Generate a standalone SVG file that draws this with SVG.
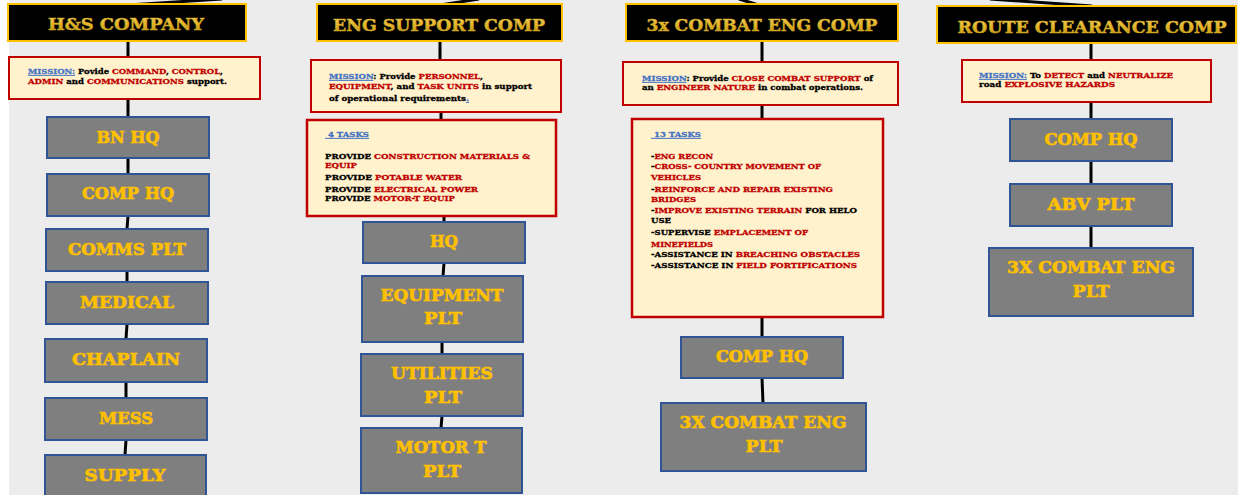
<svg xmlns="http://www.w3.org/2000/svg" width="1238" height="495" viewBox="0 0 1238 495">
<defs>
<linearGradient id="gold" x1="0" y1="0" x2="0" y2="1">
<stop offset="0" stop-color="#f2d36b"/>
<stop offset="0.5" stop-color="#e3b52a"/>
<stop offset="1" stop-color="#b8900f"/>
</linearGradient>
<style>
.hdr rect{fill:#000;stroke:#ffc000;stroke-width:2}
.hdr text{fill:url(#gold);stroke:#d9ad26;stroke-width:0.5;font-family:"DejaVu Serif",serif;font-weight:bold;font-size:17px;text-anchor:middle}
.node rect{fill:#7f7f7f;stroke:#2f5597;stroke-width:2}
.node text{fill:#ffc000;stroke:#ffc000;stroke-width:0.7;font-family:"DejaVu Serif",serif;font-weight:bold;font-size:17px;text-anchor:middle}
.mis rect{fill:#fff2cc;stroke:#c00000;stroke-width:2}
.task rect{fill:#fff2cc;stroke:#c00000;stroke-width:2.5}
.sm{font-family:"DejaVu Serif",serif;font-weight:bold;font-size:8px;fill:#000;stroke:#000;stroke-width:0.3}
.r{fill:#c00000;stroke:#c00000}
.b{fill:#4472c4;stroke:#4472c4;text-decoration:underline}
.con line{stroke:#000;stroke-width:3}
</style>
</defs>
<rect x="0" y="0" width="1238" height="495" fill="#ffffff"/>
<rect x="9" y="0" width="1229" height="495" fill="#ececec"/>

<g id="connectors" class="con">
<line x1="128" y1="5" x2="222" y2="-1"/>
<line x1="440" y1="5" x2="479" y2="-1"/>
<line x1="762" y1="6" x2="739" y2="-1"/>
<line x1="1092" y1="6" x2="990" y2="-1"/>
<line x1="128" y1="41" x2="128" y2="57"/>
<line x1="128" y1="99" x2="128" y2="117"/>
<line x1="128" y1="158" x2="128" y2="174"/>
<line x1="128" y1="216" x2="127" y2="229"/>
<line x1="127" y1="271" x2="127" y2="282"/>
<line x1="127" y1="324" x2="126" y2="339"/>
<line x1="126" y1="382" x2="126" y2="398"/>
<line x1="126" y1="440" x2="125" y2="455"/>
<line x1="440" y1="41" x2="440" y2="60"/>
<line x1="441" y1="112" x2="441" y2="120"/>
<line x1="444" y1="216" x2="444" y2="222"/>
<line x1="444" y1="263" x2="443" y2="276"/>
<line x1="442" y1="342" x2="442" y2="354"/>
<line x1="442" y1="416" x2="441" y2="428"/>
<line x1="762" y1="41" x2="762" y2="62"/>
<line x1="762" y1="105" x2="762" y2="119"/>
<line x1="762" y1="317" x2="762" y2="337"/>
<line x1="762" y1="378" x2="763" y2="403"/>
<line x1="1091" y1="43" x2="1091" y2="60"/>
<line x1="1091" y1="102" x2="1091" y2="119"/>
<line x1="1091" y1="161" x2="1091" y2="184"/>
<line x1="1091" y1="226" x2="1091" y2="248"/>
</g>

<g id="hdr-hs" class="hdr"><rect x="8" y="4" width="238" height="37"/><text x="126" y="30" textLength="156" lengthAdjust="spacingAndGlyphs">H&amp;S COMPANY</text></g>
<g id="hdr-eng" class="hdr"><rect x="317" y="4" width="245" height="37"/><text x="439" y="31" textLength="212" lengthAdjust="spacingAndGlyphs">ENG SUPPORT COMP</text></g>
<g id="hdr-cbt" class="hdr"><rect x="626" y="4" width="272" height="37"/><text x="762" y="31" textLength="231" lengthAdjust="spacingAndGlyphs">3x COMBAT ENG COMP</text></g>
<g id="hdr-rc" class="hdr"><rect x="937" y="6" width="299" height="37"/><text x="1092" y="33" textLength="269" lengthAdjust="spacingAndGlyphs">ROUTE CLEARANCE COMP</text></g>

<g id="mis-hs" class="mis"><rect x="9" y="57" width="251" height="42"/>
<text class="sm" x="28" y="74" textLength="195" lengthAdjust="spacingAndGlyphs"><tspan class="b">MISSION:</tspan> Povide <tspan class="r">COMMAND</tspan>, <tspan class="r">CONTROL</tspan>,</text>
<text class="sm" x="28" y="84" textLength="199" lengthAdjust="spacingAndGlyphs"><tspan class="r">ADMIN</tspan> and <tspan class="r">COMMUNICATIONS</tspan> support.</text>
</g>
<g id="mis-eng" class="mis"><rect x="311" y="60" width="250" height="52"/>
<text class="sm" x="329" y="79" textLength="154" lengthAdjust="spacingAndGlyphs"><tspan class="b">MISSION</tspan>: Provide <tspan class="r">PERSONNEL</tspan>,</text>
<text class="sm" x="329" y="89" textLength="203" lengthAdjust="spacingAndGlyphs"><tspan class="r">EQUIPMENT</tspan>, and <tspan class="r">TASK UNITS</tspan> in support</text>
<text class="sm" x="329" y="101" textLength="140" lengthAdjust="spacingAndGlyphs">of operational requirements<tspan class="b">.</tspan></text>
</g>
<g id="tasks-eng" class="task"><rect x="307" y="120" width="249" height="96"/>
<text class="sm" x="325" y="137" xml:space="preserve" textLength="44" lengthAdjust="spacingAndGlyphs"><tspan class="b"> 4 TASKS</tspan></text>
<text class="sm" x="325" y="159" textLength="205" lengthAdjust="spacingAndGlyphs">PROVIDE <tspan class="r">CONSTRUCTION MATERIALS &amp;</tspan></text>
<text class="sm r" x="325" y="168" textLength="32" lengthAdjust="spacingAndGlyphs">EQUIP</text>
<text class="sm" x="325" y="180" textLength="137" lengthAdjust="spacingAndGlyphs">PROVIDE <tspan class="r">POTABLE WATER</tspan></text>
<text class="sm" x="325" y="192" textLength="153" lengthAdjust="spacingAndGlyphs">PROVIDE <tspan class="r">ELECTRICAL POWER</tspan></text>
<text class="sm" x="325" y="201" textLength="130" lengthAdjust="spacingAndGlyphs">PROVIDE <tspan class="r">MOTOR-T EQUIP</tspan></text>
</g>
<g id="mis-cbt" class="mis"><rect x="623" y="62" width="275" height="43"/>
<text class="sm" x="642" y="81" textLength="231" lengthAdjust="spacingAndGlyphs"><tspan class="b">MISSION</tspan>: Provide <tspan class="r">CLOSE COMBAT SUPPORT</tspan> of</text>
<text class="sm" x="642" y="90" textLength="221" lengthAdjust="spacingAndGlyphs">an <tspan class="r">ENGINEER NATURE</tspan> in combat operations.</text>
</g>
<g id="tasks-cbt" class="task"><rect x="632" y="119" width="251" height="198"/>
<text class="sm" x="651" y="137" xml:space="preserve" textLength="50" lengthAdjust="spacingAndGlyphs"><tspan class="b"> 13 TASKS</tspan></text>
<text class="sm" x="651" y="159" textLength="62" lengthAdjust="spacingAndGlyphs">-<tspan class="r">ENG RECON</tspan></text>
<text class="sm" x="651" y="169" textLength="170" lengthAdjust="spacingAndGlyphs">-<tspan class="r">CROSS- COUNTRY MOVEMENT OF</tspan></text>
<text class="sm r" x="651" y="180" textLength="50" lengthAdjust="spacingAndGlyphs">VEHICLES</text>
<text class="sm" x="651" y="192" textLength="182" lengthAdjust="spacingAndGlyphs">-<tspan class="r">REINFORCE AND REPAIR EXISTING</tspan></text>
<text class="sm r" x="651" y="202" textLength="45" lengthAdjust="spacingAndGlyphs">BRIDGES</text>
<text class="sm" x="651" y="213" textLength="206" lengthAdjust="spacingAndGlyphs">-<tspan class="r">IMPROVE EXISTING TERRAIN</tspan> FOR HELO</text>
<text class="sm" x="651" y="223" textLength="20" lengthAdjust="spacingAndGlyphs">USE</text>
<text class="sm" x="651" y="235" textLength="157" lengthAdjust="spacingAndGlyphs">-SUPERVISE <tspan class="r">EMPLACEMENT OF</tspan></text>
<text class="sm r" x="651" y="247" textLength="62" lengthAdjust="spacingAndGlyphs">MINEFIELDS</text>
<text class="sm" x="651" y="257" textLength="209" lengthAdjust="spacingAndGlyphs">-ASSISTANCE IN <tspan class="r">BREACHING OBSTACLES</tspan></text>
<text class="sm" x="651" y="268" textLength="206" lengthAdjust="spacingAndGlyphs">-ASSISTANCE IN <tspan class="r">FIELD FORTIFICATIONS</tspan></text>
</g>
<g id="mis-rc" class="mis"><rect x="962" y="60" width="249" height="42"/>
<text class="sm" x="979" y="78" textLength="194" lengthAdjust="spacingAndGlyphs"><tspan class="b">MISSION:</tspan> To <tspan class="r">DETECT</tspan> and <tspan class="r">NEUTRALIZE</tspan></text>
<text class="sm" x="979" y="87" textLength="136" lengthAdjust="spacingAndGlyphs">road <tspan class="r">EXPLOSIVE HAZARDS</tspan></text>
</g>

<g id="hs-bnhq" class="node"><rect x="47" y="117" width="162" height="41"/><text x="128" y="143" textLength="63" lengthAdjust="spacingAndGlyphs">BN HQ</text></g>
<g id="hs-comphq" class="node"><rect x="47" y="174" width="162" height="42"/><text x="128" y="199" textLength="92" lengthAdjust="spacingAndGlyphs">COMP HQ</text></g>
<g id="hs-comms" class="node"><rect x="46" y="229" width="162" height="42"/><text x="127" y="255" textLength="118" lengthAdjust="spacingAndGlyphs">COMMS PLT</text></g>
<g id="hs-medical" class="node"><rect x="46" y="282" width="162" height="42"/><text x="127" y="308" textLength="94" lengthAdjust="spacingAndGlyphs">MEDICAL</text></g>
<g id="hs-chaplain" class="node"><rect x="45" y="339" width="162" height="43"/><text x="126" y="365" textLength="108" lengthAdjust="spacingAndGlyphs">CHAPLAIN</text></g>
<g id="hs-mess" class="node"><rect x="45" y="398" width="162" height="42"/><text x="126" y="424" textLength="54" lengthAdjust="spacingAndGlyphs">MESS</text></g>
<g id="hs-supply" class="node"><rect x="45" y="455" width="161" height="50"/><text x="125" y="481" textLength="81" lengthAdjust="spacingAndGlyphs">SUPPLY</text></g>

<g id="eng-hq" class="node"><rect x="363" y="222" width="162" height="41"/><text x="444" y="247" textLength="28" lengthAdjust="spacingAndGlyphs">HQ</text></g>
<g id="eng-equip" class="node"><rect x="362" y="276" width="161" height="66"/><text x="442" y="301" textLength="123" lengthAdjust="spacingAndGlyphs">EQUIPMENT</text><text x="443" y="324" textLength="38" lengthAdjust="spacingAndGlyphs">PLT</text></g>
<g id="eng-util" class="node"><rect x="361" y="354" width="162" height="62"/><text x="442" y="379" textLength="102" lengthAdjust="spacingAndGlyphs">UTILITIES</text><text x="443" y="403" textLength="38" lengthAdjust="spacingAndGlyphs">PLT</text></g>
<g id="eng-motor" class="node"><rect x="361" y="428" width="161" height="65"/><text x="441" y="453" textLength="91" lengthAdjust="spacingAndGlyphs">MOTOR T</text><text x="442" y="477" textLength="38" lengthAdjust="spacingAndGlyphs">PLT</text></g>

<g id="cbt-comphq" class="node"><rect x="681" y="337" width="162" height="41"/><text x="762" y="362" textLength="92" lengthAdjust="spacingAndGlyphs">COMP HQ</text></g>
<g id="cbt-plt" class="node"><rect x="661" y="403" width="205" height="68"/><text x="763" y="428" textLength="167" lengthAdjust="spacingAndGlyphs">3X COMBAT ENG</text><text x="764" y="452" textLength="37" lengthAdjust="spacingAndGlyphs">PLT</text></g>

<g id="rc-comphq" class="node"><rect x="1010" y="119" width="162" height="42"/><text x="1091" y="145" textLength="93" lengthAdjust="spacingAndGlyphs">COMP HQ</text></g>
<g id="rc-abv" class="node"><rect x="1010" y="184" width="162" height="42"/><text x="1091" y="210" textLength="87" lengthAdjust="spacingAndGlyphs">ABV PLT</text></g>
<g id="rc-plt" class="node"><rect x="989" y="248" width="204" height="68"/><text x="1091" y="273" textLength="168" lengthAdjust="spacingAndGlyphs">3X COMBAT ENG</text><text x="1091" y="297" textLength="37" lengthAdjust="spacingAndGlyphs">PLT</text></g>
</svg>
